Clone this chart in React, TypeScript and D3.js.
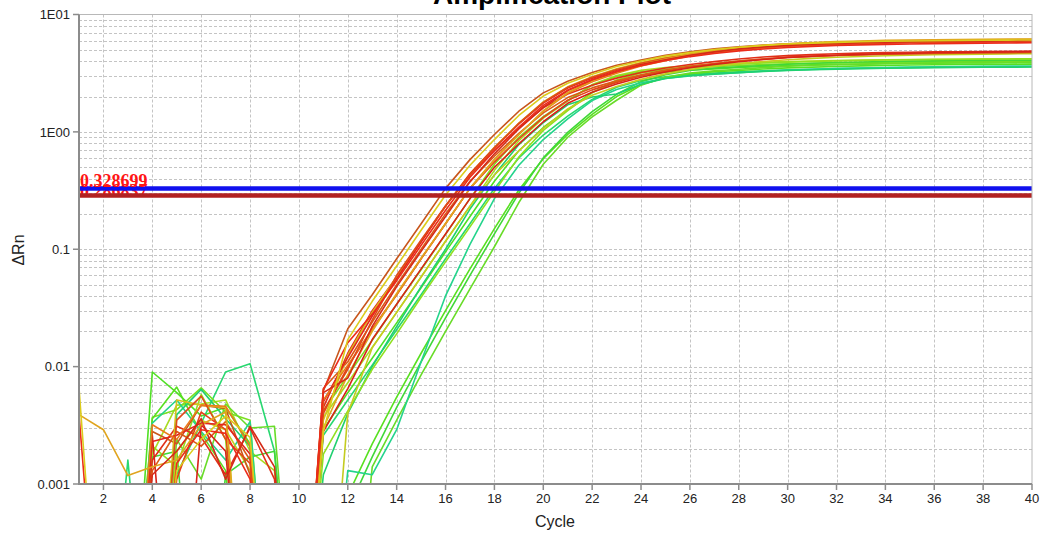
import React from 'react';
import * as d3 from 'd3';

// cycles and axis ticks
const cycles = d3.range(1, 41);
const xTickValues = [2, 4, 6, 8, 10, 12, 14, 16, 18, 20, 22, 24, 26, 28, 30, 32, 34, 36, 38, 40];
const yTickValues = [0.001, 0.01, 0.1, 1, 10];
const yTickLabels = ['0.001', '0.01', '0.1', '1E00', '1E01'];

// thresholds (blue = active, dark red = second)
const thresholds = [0.286837, 0.328699];
const thresholdLabels = ['0.286837', '0.328699'];

// ΔRn per well, cycle 1..40 (0 = at or below zero)
const wellC1 = [0, 0, 0, 0.0018, 0.0047, 0.0048, 0.0052, 0.0019, 0.0013, 0, 0.0037, 0.0073, 0.0146, 0.029, 0.058, 0.117, 0.233, 0.47, 0.84, 1.31, 1.83, 2.53, 3.02, 3.34, 3.53, 3.66, 3.76, 3.84, 3.91, 3.97, 4.02, 4.05, 4.09, 4.11, 4.13, 4.15, 4.16, 4.17, 4.18, 4.19];
const wellC2 = [0, 0, 0, 0.009, 0.006, 0.0038, 0.0045, 0.0022, 0, 0, 0.0029, 0.006, 0.0118, 0.0236, 0.047, 0.095, 0.19, 0.38, 0.69, 1.09, 1.55, 2.17, 2.68, 3.02, 3.23, 3.37, 3.44, 3.54, 3.61, 3.67, 3.72, 3.75, 3.78, 3.81, 3.83, 3.85, 3.86, 3.87, 3.88, 3.89];
const wellC3 = [0, 0, 0.0016, 0, 0.0012, 0.0033, 0.009, 0.0106, 0.0019, 0, 0.0026, 0.0052, 0.0103, 0.0206, 0.041, 0.083, 0.165, 0.33, 0.6, 0.94, 1.36, 1.89, 2.4, 2.74, 2.95, 3.09, 3.17, 3.25, 3.32, 3.38, 3.42, 3.46, 3.49, 3.51, 3.53, 3.55, 3.56, 3.57, 3.58, 3.59];
const wellC4 = [0, 0, 0, 0.0037, 0.0043, 0.0066, 0.0041, 0.0035, 0, 0, 0.0042, 0.0084, 0.0168, 0.034, 0.067, 0.134, 0.27, 0.53, 0.9, 1.35, 1.85, 2.5, 2.96, 3.25, 3.39, 3.5, 3.6, 3.68, 3.74, 3.8, 3.84, 3.87, 3.9, 3.92, 3.94, 3.96, 3.97, 3.98, 3.99, 4.0];
const wellC5 = [0, 0, 0, 0.0036, 0.0067, 0.0027, 0.0013, 0, 0, 0, 0, 0.0008, 0.0022, 0.0055, 0.013, 0.03, 0.068, 0.15, 0.32, 0.59, 0.95, 1.41, 2.0, 2.53, 2.89, 3.12, 3.26, 3.33, 3.43, 3.51, 3.56, 3.61, 3.65, 3.68, 3.71, 3.73, 3.75, 3.76, 3.77, 3.78];
const wellC6 = [0, 0, 0, 0, 0.0024, 0.0011, 0.0048, 0.003, 0.0031, 0, 0, 0, 0.0014, 0.0035, 0.0085, 0.02, 0.046, 0.105, 0.25, 0.53, 0.9, 1.34, 1.86, 2.5, 2.92, 3.17, 3.32, 3.42, 3.53, 3.62, 3.69, 3.74, 3.78, 3.82, 3.85, 3.87, 3.89, 3.91, 3.92, 3.93];
const wellC7 = [0, 0, 0, 0.0017, 0.0019, 0, 0.0012, 0.0017, 0.0019, 0, 0, 0.0006, 0.0017, 0.0045, 0.011, 0.026, 0.06, 0.135, 0.3, 0.6, 0.99, 1.49, 2.09, 2.68, 3.07, 3.34, 3.49, 3.58, 3.68, 3.77, 3.84, 3.9, 3.94, 3.98, 4.01, 4.03, 4.05, 4.06, 4.07, 4.08];
const wellC8 = [0, 0, 0, 0.0033, 0.0052, 0.0028, 0.0016, 0.0034, 0, 0, 0, 0.0013, 0.0012, 0.0029, 0.011, 0.04, 0.11, 0.27, 0.52, 0.86, 1.29, 1.85, 2.3, 2.62, 2.85, 3.0, 3.1, 3.2, 3.28, 3.35, 3.41, 3.46, 3.5, 3.53, 3.56, 3.58, 3.6, 3.62, 3.63, 3.64];
const wellC9 = [0, 0, 0, 0, 0.0039, 0.0064, 0.0036, 0.0021, 0, 0, 0.0012, 0.004, 0.01, 0.022, 0.048, 0.1, 0.22, 0.43, 0.78, 1.2, 1.7, 1.98, 2.1, 2.55, 2.85, 3.02, 3.12, 3.2, 3.27, 3.33, 3.38, 3.42, 3.45, 3.48, 3.5, 3.52, 3.54, 3.55, 3.56, 3.57];
const wellC10 = [0, 0, 0, 0.0021, 0.0014, 0.0058, 0.0024, 0, 0, 0, 0.0018, 0.0042, 0.0095, 0.019, 0.039, 0.078, 0.155, 0.31, 0.61, 1.03, 1.52, 2.15, 2.77, 3.17, 3.42, 3.56, 3.67, 3.78, 3.86, 3.93, 3.98, 4.03, 4.06, 4.09, 4.12, 4.14, 4.16, 4.17, 4.18, 4.19];
const wellB1 = [0, 0, 0, 0.0016, 0.0031, 0.0025, 0.0012, 0.003, 0.0011, 0, 0.0045, 0.013, 0.03, 0.058, 0.117, 0.233, 0.43, 0.695, 1.08, 1.6, 2.1, 2.5, 2.87, 3.21, 3.5, 3.75, 3.97, 4.18, 4.34, 4.46, 4.55, 4.63, 4.69, 4.74, 4.77, 4.8, 4.82, 4.84, 4.86, 4.88];
const wellB2 = [0, 0, 0, 0, 0.0011, 0.0041, 0.0029, 0, 0, 0, 0.004, 0.01, 0.021, 0.041, 0.083, 0.165, 0.33, 0.553, 0.874, 1.33, 1.86, 2.28, 2.64, 3.01, 3.3, 3.59, 3.81, 4.01, 4.17, 4.33, 4.42, 4.5, 4.56, 4.62, 4.66, 4.69, 4.72, 4.74, 4.76, 4.78];
const wellB3 = [0, 0, 0, 0.0013, 0.0028, 0.0021, 0.0034, 0.0016, 0, 0, 0.0065, 0.011, 0.024, 0.05, 0.1, 0.2, 0.38, 0.62, 0.97, 1.45, 1.96, 2.37, 2.72, 3.06, 3.36, 3.62, 3.83, 4.02, 4.17, 4.3, 4.39, 4.47, 4.53, 4.58, 4.62, 4.65, 4.68, 4.7, 4.72, 4.74];
const wellB4 = [0, 0, 0, 0.0026, 0, 0.0032, 0.0019, 0, 0, 0, 0.0028, 0.0065, 0.017, 0.034, 0.068, 0.135, 0.27, 0.5, 0.79, 1.22, 1.75, 2.18, 2.56, 2.92, 3.24, 3.52, 3.76, 3.96, 4.14, 4.3, 4.41, 4.5, 4.57, 4.63, 4.68, 4.72, 4.75, 4.78, 4.8, 4.82];
const wellB5 = [0, 0, 0, 0, 0.0019, 0.0035, 0.0029, 0.0013, 0, 0, 0, 0.004, 0.0145, 0.029, 0.058, 0.117, 0.233, 0.43, 0.69, 1.07, 1.57, 2.05, 2.44, 2.8, 3.12, 3.4, 3.62, 3.82, 3.98, 4.12, 4.23, 4.32, 4.39, 4.45, 4.5, 4.54, 4.57, 4.6, 4.62, 4.64];
const wellA1 = [0, 0, 0, 0.0028, 0.0022, 0.0047, 0.0044, 0.0012, 0, 0, 0.0062, 0.021, 0.041, 0.083, 0.165, 0.33, 0.58, 0.95, 1.5, 2.15, 2.7, 3.2, 3.7, 4.1, 4.5, 4.8, 5.1, 5.3, 5.5, 5.62, 5.72, 5.8, 5.87, 5.92, 5.96, 5.99, 6.02, 6.03, 6.04, 6.06];
const wellA2 = [0, 0, 0, 0, 0.0052, 0.0047, 0.0045, 0, 0, 0, 0.0035, 0.0125, 0.029, 0.058, 0.117, 0.233, 0.44, 0.74, 1.19, 1.8, 2.42, 2.95, 3.45, 3.9, 4.3, 4.65, 4.95, 5.2, 5.4, 5.56, 5.67, 5.76, 5.84, 5.9, 5.94, 5.98, 6.01, 6.05, 6.1, 6.14];
const wellA3 = [0, 0, 0, 0.0023, 0.0026, 0.0033, 0.0032, 0.0018, 0, 0, 0.005, 0.012, 0.027, 0.056, 0.115, 0.233, 0.44, 0.73, 1.17, 1.76, 2.36, 2.87, 3.35, 3.78, 4.16, 4.5, 4.79, 5.03, 5.22, 5.38, 5.48, 5.57, 5.65, 5.7, 5.74, 5.78, 5.8, 5.83, 5.85, 5.87];
const wellA4 = [0, 0, 0, 0.0032, 0.0024, 0.0047, 0.0046, 0.0021, 0, 0, 0.0052, 0.0103, 0.0206, 0.041, 0.083, 0.165, 0.33, 0.58, 0.95, 1.5, 2.13, 2.67, 3.16, 3.65, 4.04, 4.43, 4.72, 5.02, 5.21, 5.41, 5.53, 5.63, 5.7, 5.77, 5.82, 5.86, 5.89, 5.91, 5.93, 5.95];
const wellA5 = [0, 0, 0, 0, 0.0035, 0.0056, 0.0024, 0.0015, 0, 0, 0.0042, 0.0095, 0.025, 0.06, 0.12, 0.235, 0.43, 0.73, 1.18, 1.78, 2.4, 2.92, 3.4, 3.84, 4.23, 4.57, 4.87, 5.11, 5.31, 5.47, 5.58, 5.66, 5.74, 5.8, 5.84, 5.88, 5.9, 5.93, 5.95, 5.97];
const wellA6 = [0.0039, 0.0029, 0.00118, 0.0014, 0.0016, 0.0032, 0.0041, 0, 0, 0, 0.003, 0.0085, 0.02, 0.042, 0.084, 0.166, 0.33, 0.58, 0.95, 1.51, 2.17, 2.73, 3.24, 3.75, 4.17, 4.58, 4.9, 5.22, 5.43, 5.64, 5.76, 5.88, 5.95, 6.02, 6.06, 6.1, 6.13, 6.15, 6.17, 6.19];
const wellA7 = [0, 0, 0, 0.0012, 0.0019, 0.0036, 0.0011, 0.0031, 0.0014, 0, 0.006, 0.008, 0.022, 0.048, 0.096, 0.19, 0.375, 0.65, 1.06, 1.62, 2.25, 2.78, 3.27, 3.74, 4.12, 4.5, 4.8, 5.08, 5.28, 5.46, 5.58, 5.68, 5.76, 5.82, 5.87, 5.91, 5.94, 5.96, 5.98, 6.0];
const wellA8 = [0.0039, 0, 0, 0, 0.0015, 0.0029, 0.0027, 0.0011, 0, 0, 0.0064, 0.016, 0.028, 0.054, 0.108, 0.215, 0.41, 0.69, 1.1, 1.68, 2.27, 2.78, 3.25, 3.67, 4.05, 4.38, 4.66, 4.9, 5.08, 5.23, 5.35, 5.44, 5.51, 5.57, 5.61, 5.65, 5.68, 5.7, 5.72, 5.74];
const wellA9 = [0.0066, 0, 0, 0, 0.0013, 0.0024, 0.0038, 0.0025, 0, 0, 0.0028, 0.017, 0.036, 0.072, 0.145, 0.29, 0.52, 0.86, 1.38, 2.02, 2.6, 3.1, 3.6, 4.02, 4.42, 4.73, 5.04, 5.26, 5.46, 5.6, 5.7, 5.79, 5.86, 5.91, 5.95, 5.98, 6.01, 6.03, 6.05, 6.07];

// drawn back to front: greens under the reds
const wells = [wellC1, wellC2, wellC3, wellC4, wellC5, wellC6, wellC7, wellC8, wellC9, wellC10,
  wellB5, wellB1, wellB2, wellB3, wellB4,
  wellA1, wellA2, wellA3, wellA4, wellA5, wellA6, wellA7, wellA8, wellA9];
const wellColors = ['#a8dc20', '#50e024', '#28d870', '#7ce020', '#58e020', '#68dc28', '#40d838', '#24d48c', '#20d070', '#90e020',
  '#c4cc20', '#e03018', '#e6401a', '#dc5a16', '#d82218',
  '#c8561c', '#d8c01e', '#e2261c', '#ea7a1a', '#e04a1a', '#e0a41e', '#d42a18', '#ec2c1a', '#dccc1c'];

const W = 1045, H = 541;
const margin = { top: 14.5, right: 13, bottom: 57, left: 79 };
const sans = '"Liberation Sans", Arial, sans-serif';

const App = () => {
  const x = d3.scaleLinear().domain([1, 40]).range([margin.left, W - margin.right]);
  const y = d3.scaleLog().domain([0.001, 10]).range([H - margin.bottom, margin.top]);
  const [x0, x1] = x.range();
  const [y0, y1] = y.range();

  // minor log grid 1..9 x 10^e
  const gridY: number[] = [];
  [-3, -2, -1, 0].forEach((e) => {
    for (let k = 1; k <= 9; k++) gridY.push(k * Math.pow(10, e));
  });

  const line = d3.line<number>()
    .x((_, i) => x(cycles[i]))
    .y((v) => y(Math.max(v, 1e-5)));

  return (
    <svg width={W} height={H} style={{ position: 'absolute', left: 0, top: 0, background: '#fff' }}>
      <defs>
        <clipPath id="plot">
          <rect x={x0} y={y1} width={x1 - x0} height={y0 - y1} />
        </clipPath>
      </defs>

      <text x={552} y={4} textAnchor="middle" fontFamily={sans} fontWeight="bold" fontSize={28}>Amplification Plot</text>

      {/* grid */}
      <g stroke="#c4c4c4" strokeWidth={1} strokeDasharray="3,2">
        {gridY.map((v) => (
          <line key={'gy' + v} x1={x0} x2={x1} y1={Math.round(y(v)) + 0.5} y2={Math.round(y(v)) + 0.5} />
        ))}
        {xTickValues.slice(0, -1).map((c) => (
          <line key={'gx' + c} x1={Math.round(x(c)) + 0.5} x2={Math.round(x(c)) + 0.5} y1={y1} y2={y0} />
        ))}
      </g>

      {/* curves */}
      <g clipPath="url(#plot)" fill="none" strokeWidth={1.6} strokeLinejoin="round">
        {wells.map((w, i) => (
          <path key={i} d={line(w) || ''} stroke={wellColors[i]} />
        ))}
      </g>

      {/* thresholds */}
      <g clipPath="url(#plot)">
        <text x={x0 + 1} y={y(thresholds[0]) + 1} fill="#ff1414" fontFamily='"Liberation Serif", serif' fontWeight="bold" fontSize={18}>{thresholdLabels[0]}</text>
        <line x1={x0} x2={x1} y1={y(thresholds[0])} y2={y(thresholds[0])} stroke="#b22222" strokeWidth={4.5} />
        <line x1={x0} x2={x1} y1={y(thresholds[1])} y2={y(thresholds[1])} stroke="#1010ee" strokeWidth={4.5} />
        <text x={x0 + 1} y={y(thresholds[1]) - 2} fill="#ff1414" fontFamily='"Liberation Serif", serif' fontWeight="bold" fontSize={18}>{thresholdLabels[1]}</text>
      </g>

      {/* frame and axes */}
      <rect x={x0} y={y1} width={x1 - x0} height={y0 - y1} fill="none" stroke="#b8b8b8" strokeWidth={1} />
      <line x1={x0} x2={x0} y1={y1} y2={y0 + 1} stroke="#8c8c8c" strokeWidth={2} />
      <line x1={x0} x2={x1} y1={y0} y2={y0} stroke="#8c8c8c" strokeWidth={2} />

      <g fontFamily={sans} fontSize={13} fill="#222">
        {yTickValues.map((v, i) => (
          <g key={'yt' + v}>
            <line x1={x0 - 6} x2={x0} y1={y(v)} y2={y(v)} stroke="#8c8c8c" strokeWidth={1.5} />
            <text x={x0 - 9} y={y(v)} dy="0.36em" textAnchor="end">{yTickLabels[i]}</text>
          </g>
        ))}
        {xTickValues.map((c) => (
          <g key={'xt' + c}>
            <line x1={x(c)} x2={x(c)} y1={y0} y2={y0 + 6} stroke="#8c8c8c" strokeWidth={1.5} />
            <text x={x(c)} y={y0 + 19} textAnchor="middle">{c}</text>
          </g>
        ))}
      </g>

      <text x={555} y={527} textAnchor="middle" fontFamily={sans} fontSize={16} fill="#222">Cycle</text>
      <text transform="translate(24, 250) rotate(-90)" textAnchor="middle" fontFamily={sans} fontSize={16} fill="#222">ΔRn</text>
    </svg>
  );
};

export default App;
